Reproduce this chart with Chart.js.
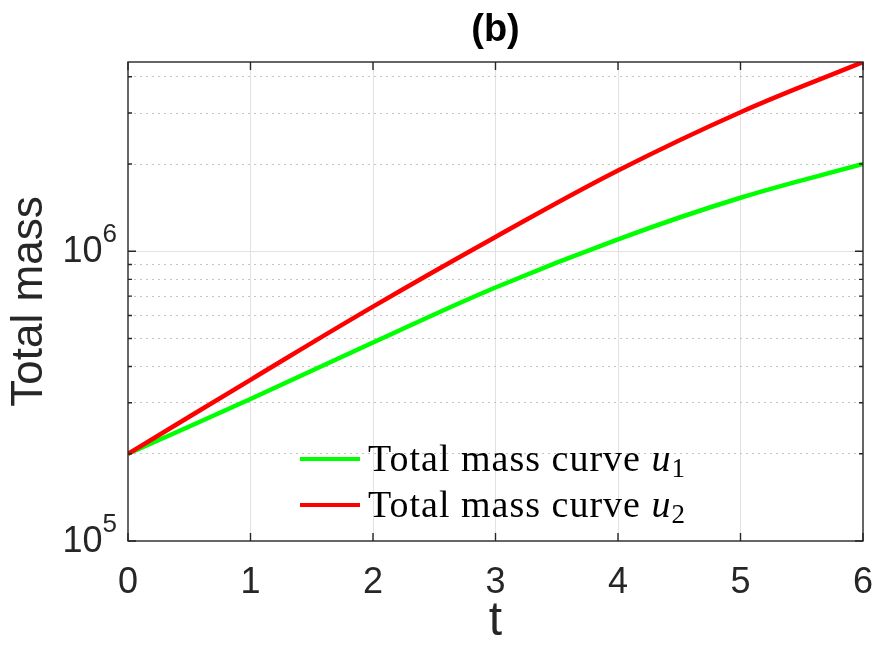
<!DOCTYPE html>
<html>
<head>
<meta charset="utf-8">
<title>Total mass (b)</title>
<script src="https://cdn.jsdelivr.net/npm/chart.js@4.4.1/dist/chart.umd.min.js"></script>
<style>
  html, body { margin: 0; padding: 0; background: #ffffff; }
  canvas { display: block; }
</style>
</head>
<body>
<canvas id="massChart" width="875" height="657"></canvas>
<script>
// values
const timePoints = [0, 1, 2, 3, 4, 5, 6];
const massU1 = [2.0e5, 3.09e5, 4.84e5, 7.5e5, 1.10e6, 1.53e6, 2.0e6];
const massU2 = [2.0e5, 3.6e5, 6.44e5, 1.12e6, 1.90e6, 3.02e6, 4.5e6];
const seriesLabels = ['Total mass curve u\u2081', 'Total mass curve u\u2082'];
const xTicks = [0, 1, 2, 3, 4, 5, 6];
const yDecades = [1e5, 1e6];
const yMin = 1e5;
const yMax = 4.5e6;
const chartTitle = '(b)';
const xTitle = 't';
const yTitle = 'Total mass';

const AXIS_COLOR = '#262626';
const SANS = "'Liberation Sans', Arial, Helvetica, sans-serif";
const SERIF = "'Liberation Serif', 'Times New Roman', serif";

function toPoints(xs, ys) {
    return xs.map((x, i) => ({ x: x, y: ys[i] }));
}

// 1..9 x 10^n ticks, kept inside the axis range
function logTicks() {
    const ticks = [];
    yDecades.forEach(d => {
        for (let k = 1; k <= 9; k++) {
            const v = k * d;
            if (v <= yMax + 1) ticks.push({ value: v, major: k === 1 });
        }
    });
    return ticks;
}

// draws title, box, inward ticks, y tick labels and the in-plot legend
const matlabAxes = {
    id: 'matlabAxes',
    afterDraw(chart) {
        const ctx = chart.ctx;
        const area = chart.chartArea;
        const xs = chart.scales.x;
        const ys = chart.scales.y;
        ctx.save();

        // title over the axes
        ctx.fillStyle = '#000000';
        ctx.font = 'bold 38px ' + SANS;
        ctx.textAlign = 'center';
        ctx.textBaseline = 'middle';
        ctx.fillText(chartTitle, (area.left + area.right) / 2, 31);

        // box
        ctx.strokeStyle = AXIS_COLOR;
        ctx.lineWidth = 1.4;
        ctx.strokeRect(area.left, area.top, area.right - area.left, area.bottom - area.top);

        // inward ticks
        ctx.beginPath();
        xTicks.forEach(t => {
            const px = xs.getPixelForValue(t);
            ctx.moveTo(px, area.bottom); ctx.lineTo(px, area.bottom - 8);
            ctx.moveTo(px, area.top); ctx.lineTo(px, area.top + 8);
        });
        ys.ticks.forEach(t => {
            const py = ys.getPixelForValue(t.value);
            const len = t.major ? 8 : 4;
            ctx.moveTo(area.left, py); ctx.lineTo(area.left + len, py);
            ctx.moveTo(area.right, py); ctx.lineTo(area.right - len, py);
        });
        ctx.stroke();

        // y tick labels 10^n
        ctx.fillStyle = AXIS_COLOR;
        ctx.textBaseline = 'middle';
        yDecades.forEach(d => {
            const py = ys.getPixelForValue(d);
            const exp = String(Math.round(Math.log10(d)));
            ctx.font = '26px ' + SANS;
            const ew = ctx.measureText(exp).width;
            const right = area.left - 11;
            ctx.textAlign = 'left';
            ctx.fillText(exp, right - ew, py - 16);
            ctx.font = '36px ' + SANS;
            ctx.textAlign = 'right';
            ctx.fillText('10', right - ew, py + 1);
        });

        // legend inside the axes, no frame
        const legendX = 300;
        const legendY = [459, 505];
        chart.data.datasets.forEach((ds, i) => {
            const y = legendY[i];
            ctx.strokeStyle = ds.borderColor;
            ctx.lineWidth = 4;
            ctx.beginPath();
            ctx.moveTo(legendX, y);
            ctx.lineTo(legendX + 60, y);
            ctx.stroke();

            const m = ds.label.match(/^(.*)u(.)$/);
            const base = m ? m[1] : ds.label;
            const sub = m ? String('\u2080\u2081\u2082\u2083\u2084\u2085\u2086\u2087\u2088\u2089'.indexOf(m[2])) : '';
            let tx = legendX + 68;
            const baseY = y + 12;
            ctx.fillStyle = '#000000';
            ctx.textAlign = 'left';
            ctx.textBaseline = 'alphabetic';
            ctx.letterSpacing = '1px';
            ctx.font = '38px ' + SERIF;
            ctx.fillText(base, tx, baseY);
            tx += ctx.measureText(base).width;
            if (m) {
                ctx.font = 'italic 38px ' + SERIF;
                ctx.fillText('u', tx, baseY);
                tx += ctx.measureText('u').width;
                ctx.font = '27px ' + SERIF;
                ctx.fillText(sub, tx, baseY + 6);
            }
            ctx.letterSpacing = '0px';
        });
        ctx.restore();
    }
};

const ctx = document.getElementById('massChart');
new Chart(ctx, {
    type: 'line',
    data: {
        datasets: [{
            label: seriesLabels[0],
            data: toPoints(timePoints, massU1),
            borderColor: '#00ff00',
            borderWidth: 4.5,
            pointRadius: 0,
            tension: 0.4,
            fill: false,
            order: 1
        }, {
            label: seriesLabels[1],
            data: toPoints(timePoints, massU2),
            borderColor: '#ff0000',
            borderWidth: 4.5,
            pointRadius: 0,
            tension: 0.4,
            fill: false,
            order: 0
        }]
    },
    options: {
        responsive: false,
        animation: false,
        devicePixelRatio: 1,
        layout: { padding: { top: 62, right: 12, left: 0, bottom: 0 } },
        plugins: {
            legend: { display: false },
            title: { display: false },
            tooltip: { enabled: false }
        },
        scales: {
            x: {
                type: 'linear',
                min: 0,
                max: 6,
                afterBuildTicks: s => { s.ticks = xTicks.map(v => ({ value: v })); },
                afterFit: s => { s.height = 116; s.paddingLeft = 0; s.paddingRight = 0; },
                ticks: {
                    color: AXIS_COLOR,
                    font: { family: SANS, size: 36 },
                    padding: 20,
                    maxRotation: 0
                },
                grid: {
                    drawTicks: false,
                    color: c => (c.tick && c.tick.value > 0 && c.tick.value < 6) ? '#e2e2e2' : 'rgba(0,0,0,0)',
                    lineWidth: 1
                },
                border: { display: false },
                title: {
                    display: true,
                    text: xTitle,
                    color: AXIS_COLOR,
                    font: { family: SANS, size: 48 },
                    padding: { top: 0, bottom: 6 }
                }
            },
            y: {
                type: 'logarithmic',
                position: 'left',
                min: yMin,
                max: yMax,
                afterBuildTicks: s => { s.ticks = logTicks(); },
                afterFit: s => { s.width = 128; s.paddingTop = 0; s.paddingBottom = 0; },
                ticks: { display: false },
                grid: {
                    drawTicks: false,
                    color: c => (c.tick && c.tick.value === 1e6) ? '#e2e2e2' : 'rgba(0,0,0,0)',
                    lineWidth: 1
                },
                border: { display: false },
                title: {
                    display: true,
                    text: yTitle,
                    color: AXIS_COLOR,
                    font: { family: SANS, size: 44 },
                    padding: { top: 3, bottom: 0 }
                }
            },
            yMinor: {
                type: 'logarithmic',
                position: 'left',
                min: yMin,
                max: yMax,
                afterBuildTicks: s => { s.ticks = logTicks(); },
                afterFit: s => { s.width = 0; s.paddingTop = 0; s.paddingBottom = 0; },
                ticks: { display: false },
                grid: {
                    drawTicks: false,
                    color: c => (c.tick && !c.tick.major) ? '#c4c4c4' : 'rgba(0,0,0,0)',
                    lineWidth: 1
                },
                border: { display: false, dash: [2, 4] }
            }
        }
    },
    plugins: [matlabAxes]
});
</script>
</body>
</html>
